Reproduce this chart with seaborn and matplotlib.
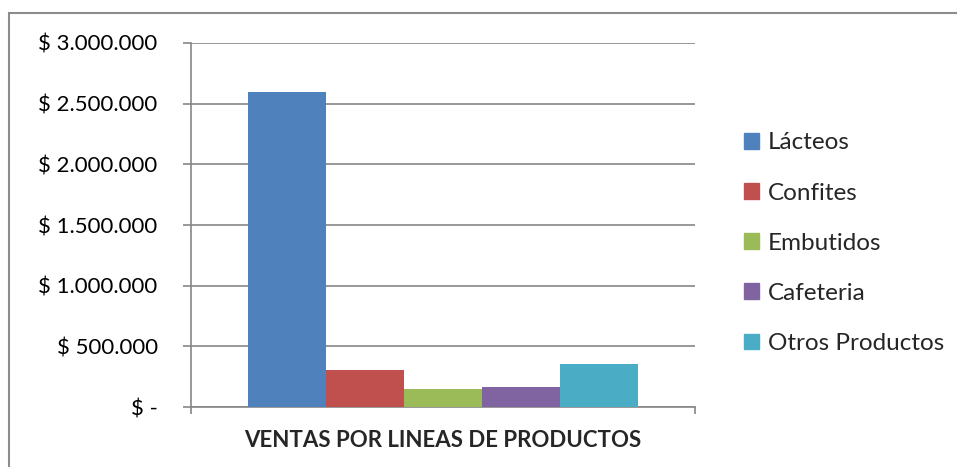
import matplotlib; matplotlib.use('Agg')
import pandas as pd
import numpy as np
import seaborn as sns
import matplotlib.pyplot as plt
from matplotlib.patches import Rectangle

# Data
productos = ['Lácteos', 'Confites', 'Embutidos', 'Cafeteria', 'Otros Productos']
ventas = [2600000, 302000, 146000, 162000, 352000]
grupo = 'VENTAS POR LINEAS DE PRODUCTOS'
colores = ['#4F81BD', '#C0504D', '#9BBB59', '#8064A2', '#4BACC6']
y_ticks = [0, 500000, 1000000, 1500000, 2000000, 2500000, 3000000]

df = pd.DataFrame({'producto': productos, 'ventas': ventas, 'grupo': [grupo] * len(productos)})


def fmt_peso(v):
    if v == 0:
        return '$ -'
    return '$ ' + f"{int(v):,}".replace(',', '.')


sns.set_style('white')
plt.rcParams['font.family'] = ['Lato', 'DejaVu Sans']

fig = plt.figure(figsize=(9.57, 4.67), dpi=100)
ax = fig.add_axes([191 / 957, 1 - 407 / 467, (695 - 191) / 957, (407 - 43) / 467])

sns.barplot(data=df, x='grupo', y='ventas', hue='producto', palette=colores,
            width=0.772, saturation=1, linewidth=0, ax=ax, legend=False, zorder=3)

grid_color = '#868686'
ax.set_xlim(-0.5, 0.5)
ax.set_ylim(0, 3000000)
ax.set_yticks(y_ticks)
ax.set_yticklabels([fmt_peso(v) for v in y_ticks], fontsize=16, color='black')
ax.yaxis.grid(True, color=grid_color, linewidth=1.2, zorder=0)
ax.tick_params(axis='y', length=6, width=1.2, color=grid_color, pad=18, left=True)
ax.set_xticks([-0.5, 0.5])
ax.set_xticklabels(['', ''])
ax.tick_params(axis='x', length=5, width=1.2, color=grid_color, bottom=True)
for side in ['top', 'right']:
    ax.spines[side].set_visible(False)
for side in ['left', 'bottom']:
    ax.spines[side].set_color(grid_color)
    ax.spines[side].set_linewidth(1.2)
ax.set_ylabel('')
ax.set_xlabel(grupo, fontsize=16, fontweight='bold', labelpad=8)

handles = [Rectangle((0, 0), 1, 1, color=c) for c in colores]
ax.legend(handles, productos, loc='center left', bbox_to_anchor=(1.078, 0.45),
          frameon=False, fontsize=17.5, handlelength=0.62, handleheight=0.62,
          handletextpad=0.35, labelspacing=1.2, borderaxespad=0)

# chart border (Excel frame, cut off at right and bottom)
fig.patches.append(Rectangle((9 / 957, -0.05), 1.1, 1 - 13 / 467 + 0.05,
                             transform=fig.transFigure, fill=False,
                             edgecolor='#8C8C8C', linewidth=1.5))

fig.savefig('out.png', dpi=100)
